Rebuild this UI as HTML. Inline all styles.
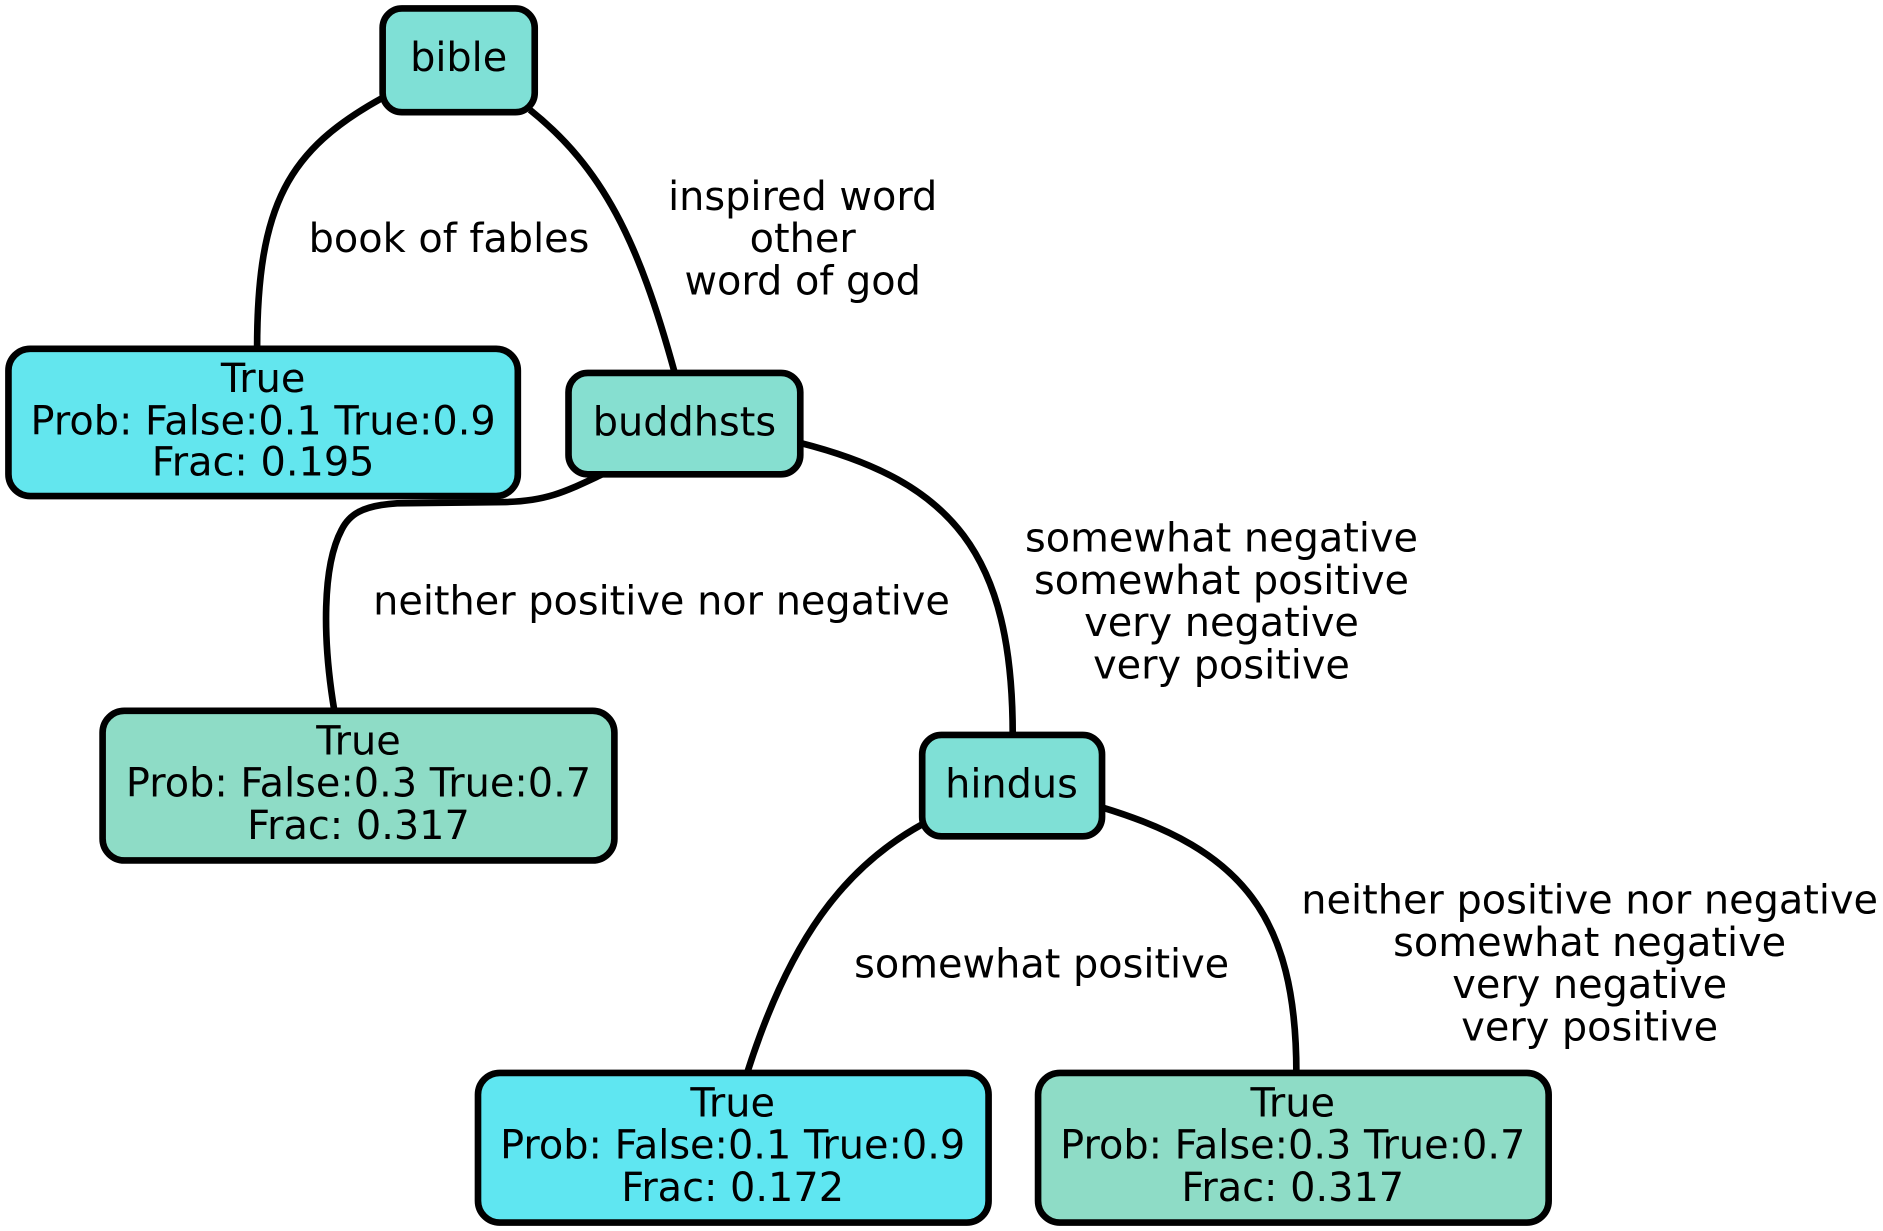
<!DOCTYPE html>
<html><head><meta charset="utf-8"><style>html,body{margin:0;padding:0;background:#fff}svg{display:block}</style></head>
<body>
<svg width="1883" height="1231" viewBox="0 0 1560 1020" preserveAspectRatio="none" xmlns="http://www.w3.org/2000/svg" font-family="'DejaVu Sans','Liberation Sans',sans-serif" font-size="33" text-anchor="middle">
<g transform="translate(-1,-1)">
<g fill="none" stroke="#000" stroke-width="5.5">
<path d="M318,82 C240,125 214,170 214,290"/>
<path d="M440,92 C500,140 530,200 560,310"/>
<path d="M500,394 C470,408 455,416 420,417 L330,418 C300,420 290,428 284,440 C268,470 268,530 278,590"/>
<path d="M664,368 C790,400 840,460 840,610"/>
<path d="M765,684 C700,720 655,780 620,890"/>
<path d="M914,670 C1030,705 1075,760 1075,890"/>
</g>
<g stroke="#000" stroke-width="5.5">
<rect x="318" y="8" width="126" height="86" rx="16" fill="#7fe0d6"/>
<rect x="8" y="290" width="422" height="122" rx="18" fill="#63e6ee"/>
<rect x="472" y="310" width="192" height="84" rx="16" fill="#86dfd0"/>
<rect x="86" y="590" width="424" height="124" rx="18" fill="#8edcc6"/>
<rect x="765" y="610" width="149" height="84" rx="16" fill="#7fe0d6"/>
<rect x="397" y="890" width="423" height="124" rx="18" fill="#5fe6f1"/>
<rect x="861" y="890" width="423" height="124" rx="18" fill="#8edcc6"/>
</g>
<g fill="#000">
<text x="381" y="60">bible</text>
<text x="219" y="326">True</text><text x="219" y="361">Prob: False:0.1 True:0.9</text><text x="219" y="395">Frac: 0.195</text>
<text x="568" y="362">buddhsts</text>
<text x="298" y="626">True</text><text x="298" y="661">Prob: False:0.3 True:0.7</text><text x="298" y="696">Frac: 0.317</text>
<text x="839" y="662">hindus</text>
<text x="608" y="926">True</text><text x="608" y="961">Prob: False:0.1 True:0.9</text><text x="608" y="996">Frac: 0.172</text>
<text x="1072" y="926">True</text><text x="1072" y="961">Prob: False:0.3 True:0.7</text><text x="1072" y="996">Frac: 0.317</text>
<text x="373" y="210">book of fables</text>
<text x="666" y="175">inspired word</text><text x="666" y="210">other</text><text x="666" y="245">word of god</text>
<text x="549" y="510">neither positive nor negative</text>
<text x="1013" y="458">somewhat negative</text><text x="1013" y="493">somewhat positive</text><text x="1013" y="528">very negative</text><text x="1013" y="563">very positive</text>
<text x="864" y="811">somewhat positive</text>
<text x="1318" y="758">neither positive nor negative</text><text x="1318" y="793">somewhat negative</text><text x="1318" y="828">very negative</text><text x="1318" y="863">very positive</text>
</g>
</g>
</svg>
</body></html>
